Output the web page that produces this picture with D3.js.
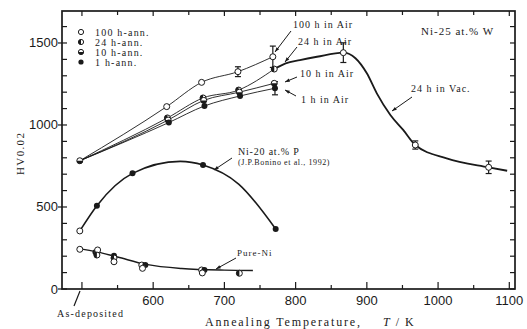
<!DOCTYPE html>
<html>
<head>
<meta charset="utf-8">
<script src="https://cdn.jsdelivr.net/npm/d3@7"></script>
<style>
  body { margin: 0; background: #fff; }
  svg { display: block; }
  .serif { font-family: "Liberation Serif", "DejaVu Serif", serif; fill: #1a1a1a; }
  .sans { font-family: "Liberation Sans", Arial, sans-serif; fill: #1a1a1a; }
</style>
</head>
<body>
<div id="chart"></div>
<script>
// Ni-25 at.% W, annealed in air (T in K, HV0.02)
const asDeposited = [497, 782];
const air100 = [[619, 1112], [668, 1260], [719, 1325], [768, 1416]];
const air24 = [[620, 1043], [670, 1165], [720, 1213], [770, 1341]];
const air10 = [[621, 1030], [671, 1150], [721, 1200], [770, 1254]];
const air1 = [[622, 1015], [672, 1116], [722, 1177], [771, 1224]];
const airErr = [[719, 1325, 30], [768, 1416, 65], [771, 1224, 40]];

// 24 h in vacuum: measured points and trace of the drawn curve
const vacPoints = [[867, 1441], [968, 878], [1071, 742]];
const vacErr = [[867, 1441, 60], [968, 878, 25], [1071, 742, 38]];
const vacCurve = [[770, 1341], [786, 1376], [806, 1396], [830, 1416], [867, 1441], [884, 1407],
  [900, 1315], [914, 1193], [933, 1061], [951, 970], [968, 878], [1012, 797], [1071, 742], [1097, 721]];

// Ni-20 at.% P (Bonino et al.)
const niPPoints = [[497, 354, "open"], [521, 508, "fill"], [571, 705, "fill"], [670, 756, "fill"], [772, 366, "fill"]];
const niPCurve = [[497, 354], [521, 508], [571, 705], [638, 778], [670, 756], [720, 640], [772, 366]];

// Pure Ni
const pureNiPoints = [[497, 242, "open"], [519, 224, "fill"], [522, 238, "open"], [521, 207, "half"],
  [545, 203, "fill"], [545, 189, "half"], [545, 166, "open"], [584, 146, "open"], [589, 146, "fill"],
  [585, 126, "open"], [668, 116, "open"], [672, 116, "fill"], [669, 98, "open"], [721, 96, "half"]];
const pureNiCurve = [[497, 245], [520, 228], [550, 195], [590, 150], [640, 125], [700, 115], [740, 113]];

const legendItems = [["100 h-ann.", "open"], ["24 h-ann.", "half"], ["10 h-ann.", "bottom"], ["1 h-ann.", "fill"]];
const xTickLabels = [600, 700, 800, 900, 1000, 1100];
const yTickLabels = [0, 500, 1000, 1500];

const width = 527, height = 329;
const ink = "#1a1a1a";
const svg = d3.select("#chart").append("svg").attr("width", width).attr("height", height);

const x = d3.scaleLinear([472, 1108], [62, 515]);
const y = d3.scaleLinear([0, 1695], [289, 11]);

// frame
svg.append("rect").attr("x", x(472)).attr("y", y(1695))
  .attr("width", x(1108) - x(472)).attr("height", y(0) - y(1695))
  .attr("fill", "none").attr("stroke", ink).attr("stroke-width", 1.7);

// ticks (inside, majors longer)
const ticksG = svg.append("g").attr("stroke", ink).attr("stroke-width", 1.2);
d3.range(500, 1101, 50).forEach(t => {
  const major = t % 100 === 0;
  ticksG.append("line").attr("x1", x(t)).attr("x2", x(t)).attr("y1", y(0)).attr("y2", y(0) - (major ? 7 : 4));
  ticksG.append("line").attr("x1", x(t)).attr("x2", x(t)).attr("y1", y(1695)).attr("y2", y(1695) + (major ? 5 : 4));
});
d3.range(0, 1601, 100).forEach(v => {
  const major = v % 500 === 0;
  ticksG.append("line").attr("x1", x(472) - (major ? 4 : 0)).attr("x2", x(472) + 5).attr("y1", y(v)).attr("y2", y(v));
  ticksG.append("line").attr("x1", x(1108)).attr("x2", x(1108) - 5).attr("y1", y(v)).attr("y2", y(v));
});

// tick labels
svg.append("g").selectAll("text").data(xTickLabels).join("text")
  .attr("class", "sans").attr("font-size", 13).attr("text-anchor", "middle")
  .attr("x", d => x(d)).attr("y", 305).text(d => d);
svg.append("g").selectAll("text").data(yTickLabels).join("text")
  .attr("class", "sans").attr("font-size", 13).attr("text-anchor", "end")
  .attr("x", 58).attr("y", d => y(d) + 4.5).text(d => d);

// axis titles
svg.append("text").attr("class", "serif").attr("font-size", 11)
  .attr("transform", "translate(24,154) rotate(-90)").attr("text-anchor", "middle")
  .attr("textLength", 42).attr("lengthAdjust", "spacing").text("HV0.02");
const xt = svg.append("text").attr("class", "serif").attr("font-size", 12).attr("y", 326);
xt.append("tspan").attr("x", 205).attr("textLength", 155).attr("lengthAdjust", "spacing").text("Annealing Temperature,");
xt.append("tspan").attr("x", 383).attr("font-style", "italic").text("T");
xt.append("tspan").attr("dx", 6).text("/");
xt.append("tspan").attr("dx", 6).text("K");

// curves
const line = d3.line().x(d => x(d[0])).y(d => y(d[1])).curve(d3.curveMonotoneX);
const curves = svg.append("g").attr("fill", "none").attr("stroke", ink);
[air100, air24, air10, air1].forEach(s => {
  curves.append("path").attr("stroke-width", 0.9).attr("d", line([asDeposited, ...s]));
});
curves.append("path").attr("stroke-width", 1.8).attr("d", line(vacCurve));
curves.append("path").attr("stroke-width", 1.6).attr("d", line(niPCurve));
curves.append("path").attr("stroke-width", 1.4).attr("d", line(pureNiCurve));

// error bars
const errG = svg.append("g").attr("stroke", ink).attr("stroke-width", 1.2);
[...airErr, ...vacErr].forEach(([t, v, e]) => {
  errG.append("line").attr("x1", x(t)).attr("x2", x(t)).attr("y1", y(v - e)).attr("y2", y(v + e));
  [v - e, v + e].forEach(c => errG.append("line")
    .attr("x1", x(t) - 3).attr("x2", x(t) + 3).attr("y1", y(c)).attr("y2", y(c)));
});

// markers
function marker(g, cx, cy, type, r = 3) {
  if (type === "fill") {
    g.append("circle").attr("cx", cx).attr("cy", cy).attr("r", r).attr("fill", ink);
    return;
  }
  g.append("circle").attr("cx", cx).attr("cy", cy).attr("r", r).attr("fill", "#fff")
    .attr("stroke", ink).attr("stroke-width", 1);
  if (type === "half") {
    g.append("path").attr("fill", ink)
      .attr("d", `M${cx},${cy - r}A${r},${r} 0 0,0 ${cx},${cy + r}Z`);
  } else if (type === "bottom") {
    g.append("path").attr("fill", ink)
      .attr("d", `M${cx - r},${cy}A${r},${r} 0 0,0 ${cx + r},${cy}Z`);
  }
}
const mk = svg.append("g");
marker(mk, x(asDeposited[0]), y(asDeposited[1]), "bottom");
[[air100, "open"], [air24, "half"], [air10, "bottom"], [air1, "fill"]].forEach(([s, type]) => {
  s.forEach(d => marker(mk, x(d[0]), y(d[1]), type));
});
vacPoints.forEach(d => marker(mk, x(d[0]), y(d[1]), "open"));
niPPoints.forEach(d => marker(mk, x(d[0]), y(d[1]), d[2]));
pureNiPoints.forEach(d => marker(mk, x(d[0]), y(d[1]), d[2]));

// legend
const lg = svg.append("g");
legendItems.forEach(([label, type], i) => {
  const ly = 32 + i * 10;
  marker(lg, 81, ly, type, 2.6);
  lg.append("text").attr("class", "serif").attr("font-size", 10).attr("x", 95).attr("y", ly + 3.5)
    .attr("letter-spacing", 1.2).text(label);
});

// annotations
const ann = svg.append("g");
function note(text, tx, ty, size, spacing, arrow) {
  ann.append("text").attr("class", "serif").attr("font-size", size).attr("x", tx).attr("y", ty)
    .attr("letter-spacing", spacing).text(text);
  if (arrow) {
    const [x1, y1, x2, y2] = arrow;
    ann.append("line").attr("x1", x1).attr("y1", y1).attr("x2", x2).attr("y2", y2)
      .attr("stroke", ink).attr("stroke-width", 1);
    const a = Math.atan2(y2 - y1, x2 - x1), L = 5;
    ann.append("path").attr("fill", ink).attr("d",
      `M${x2},${y2}L${x2 - L * Math.cos(a - 0.35)},${y2 - L * Math.sin(a - 0.35)}` +
      `L${x2 - L * Math.cos(a + 0.35)},${y2 - L * Math.sin(a + 0.35)}Z`);
  }
}
note("100 h in Air", 293, 28, 10, 1, [291, 31, 275, 52]);
note("24 h in Air", 298, 45, 10, 1, [297, 47, 285, 62]);
note("10 h in Air", 300, 77, 10, 1, [297, 77, 285, 82]);
note("1 h in Air", 301, 103, 10, 1, [296, 96, 285, 90]);
note("24 h in Vac.", 411, 92, 10, 1, [412, 97, 392, 111]);
note("Ni-25 at.% W", 421, 35, 11, 1, null);
note("Ni-20 at.% P", 238, 155, 10, 0.8, [232, 158, 214, 170]);
note("(J.P.Bonino et al., 1992)", 238, 165, 8, 0.6, null);
note("Pure-Ni", 237, 256, 9, 1, [236, 258, 216, 269]);
note("As-deposited", 57, 317, 10, 1.2, null);
ann.append("line").attr("x1", 80).attr("y1", 291).attr("x2", 74).attr("y2", 306)
  .attr("stroke", ink).attr("stroke-width", 1.2);
</script>
</body>
</html>
